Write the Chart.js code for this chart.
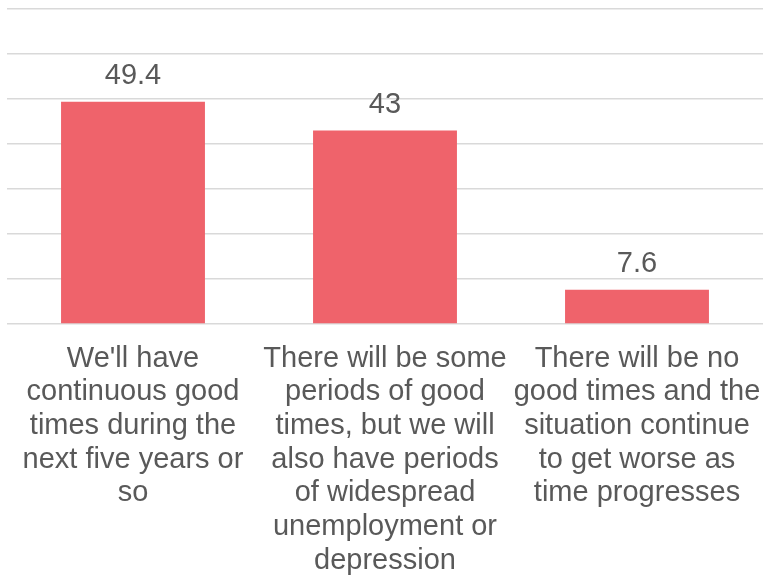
<!DOCTYPE html>
<html>
<head>
<meta charset="utf-8">
<script src="https://cdn.jsdelivr.net/npm/chart.js@4/dist/chart.umd.min.js"></script>
<style>
  body { margin: 0; background: #fff; }
  #chart1 { display: block; }
</style>
</head>
<body>
<canvas id="chart1" width="764" height="577"></canvas>
<script>
// answers, each label split into its lines
var answers = [
    ["We'll have", "continuous good", "times during the", "next five years or", "so"],
    ["There will be some", "periods of good", "times, but we will", "also have periods", "of widespread", "unemployment or", "depression"],
    ["There will be no", "good times and the", "situation continue", "to get worse as", "time progresses"]
];
var percents = [49.4, 43, 7.6];
var yTicks = [0, 10, 20, 30, 40, 50, 60, 70];

var textColor = '#595959';
var fontFamily = '"Liberation Sans", Arial, sans-serif';

// writes the value above each bar
var valueLabels = {
    id: 'valueLabels',
    afterDatasetsDraw: function(chart) {
        var ctx = chart.ctx;
        var meta = chart.getDatasetMeta(0);
        ctx.save();
        ctx.font = '29px ' + fontFamily;
        ctx.fillStyle = textColor;
        ctx.textAlign = 'center';
        ctx.textBaseline = 'alphabetic';
        for (var i = 0; i < meta.data.length; i++) {
            var bar = meta.data[i];
            ctx.fillText(String(percents[i]), bar.x, bar.y - 18);
        }
        ctx.restore();
    }
};

var ctx = document.getElementById('chart1').getContext('2d');
var chart1 = new Chart(ctx, {
    type: 'bar',
    data: {
        labels: answers,
        datasets: [{
            data: percents,
            backgroundColor: '#EF636B',
            borderWidth: 0,
            categoryPercentage: 1,
            barPercentage: 0.571
        }]
    },
    options: {
        responsive: false,
        animation: false,
        layout: { padding: { left: 7, right: 1, top: 9, bottom: 0 } },
        plugins: {
            legend: { display: false },
            tooltip: { enabled: false }
        },
        scales: {
            x: {
                grid: { display: false },
                border: { display: false },
                afterFit: function(scale) {
                    // fixed label band, no side overhang
                    scale.height = 253;
                    scale.paddingLeft = 0;
                    scale.paddingRight = 0;
                },
                ticks: {
                    color: textColor,
                    maxRotation: 0,
                    autoSkip: false,
                    padding: 10,
                    font: { family: fontFamily, size: 29, lineHeight: 1.16 }
                }
            },
            y: {
                min: 0,
                max: 70,
                afterBuildTicks: function(axis) {
                    axis.ticks = yTicks.map(function(v) { return { value: v }; });
                },
                afterFit: function(scale) {
                    scale.width = 0;
                },
                grid: { color: '#D9D9D9', lineWidth: 1.5, drawTicks: false },
                border: { display: false },
                ticks: { display: false }
            }
        }
    },
    plugins: [valueLabels]
});
</script>
</body>
</html>
